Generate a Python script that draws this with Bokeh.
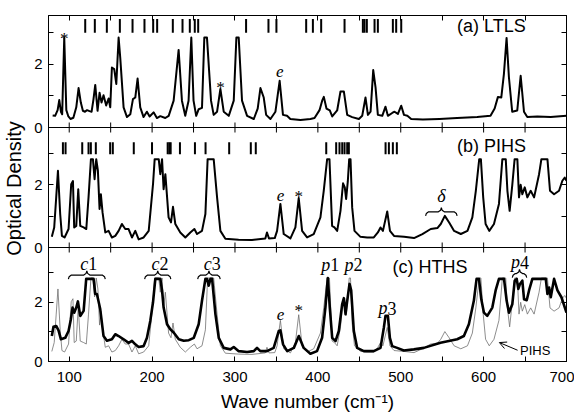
from bokeh.plotting import figure
from bokeh.models import (Range1d, FixedTicker, LinearAxis, Arrow, OpenHead, ColumnDataSource,
                          CustomJSTickFormatter, Span)
from bokeh.core.properties import value
from bokeh.embed import file_html
from bokeh.resources import INLINE

# ---------------- data ----------------
ltls_wn = [80,83,86,88,90,91.5,94,96.5,99,101.5,
           105,108.5,111.3,114,116.5,119,121.5,124.5,127,129.3,
           131.4,134.2,136.6,139,141.4,144.6,147.5,149.5,151.5,154.3,
           156.8,159.6,161.6,165.6,169.7,173.7,176.9,179.7,182.5,185.7,
           189.7,193.7,197,201.8,205.8,209.9,215.9,220,226,232,
           236,240,244,247.3,250,253.2,256.2,260.2,263,266.2,
           271.1,274.3,278.4,282.4,286.4,292.5,298.5,301.7,304.5,308.5,
           314.6,322.7,327.4,330.7,334.7,337.6,342.8,348.8,353.9,357.9,
           362.8,366.8,379,391,396,402,405.2,407.2,410.4,414.4,
           417.3,423.3,427.3,431.4,435.4,441.4,449.5,453.5,457.5,460.4,
           463.6,466.8,469.6,472.4,477.7,481.6,484.5,489.7,492.5,496.6,
           500.6,503.9,508,512.6,526.7,546.8,568,592.2,608.3,613.3,
           617.3,621.3,624.5,627.7,630.5,634.5,640.6,644.7,648.7,652.7,
           664.8,680.9,700]
ltls_od = [0.38,0.37,0.55,0.87,0.5,0.42,2.85,0.55,0.35,0.27,
           0.31,0.64,1.25,0.79,0.53,0.5,0.55,0.52,0.5,0.9,
           1.35,0.53,1.1,0.79,1.02,0.7,0.92,0.64,1.9,1.85,
           1.38,2.85,2.2,0.64,0.33,0.42,0.9,0.95,1.55,0.64,
           0.33,0.5,0.35,0.48,0.3,0.36,0.3,0.37,0.85,2.46,
           0.85,0.37,0.85,2.85,0.85,0.37,0.58,0.62,2.85,2.85,
           0.85,0.4,0.5,1.22,0.5,0.37,0.85,2.85,2.85,0.85,
           0.37,0.27,0.6,1.25,0.95,0.4,0.27,0.5,1.48,0.4,
           0.37,0.27,0.24,0.27,0.3,0.55,0.85,0.97,0.6,0.54,
           0.35,0.54,1.14,1.14,0.4,0.33,0.27,0.37,0.95,0.4,
           0.5,1.82,1.27,0.4,0.37,0.66,0.37,0.46,0.5,0.43,
           0.69,0.4,0.37,0.27,0.25,0.27,0.3,0.33,0.37,0.6,
           0.97,0.95,1.7,2.84,1.6,0.5,0.54,1.64,0.5,0.33,
           0.35,0.33,0.37]

pihs_wn = [79,81.9,84.3,86.4,89.1,91.2,94.4,99.2,102.4,104.5,
           106,108.5,110.9,113.3,117.4,120.6,123.3,126.2,128.6,130.6,
           132.6,134.6,136.6,138.2,140.2,143.5,147.5,151.5,155.6,159.6,
           163.6,167.6,171.6,175.7,179.7,183.8,189.8,195.9,201.1,203.1,
           208,209.9,212,213.9,216,219.9,222.8,225.2,228,234,
           240.1,246.1,251,254.2,260.2,264.3,267,274.3,278.4,282.4,
           288.4,304.4,320.5,336.6,338.6,341,348,350.8,354.8,358.8,
           366.9,372.9,376.9,381,387,395,403.1,407.1,411.2,414,
           417.2,420,423.3,427.3,430.4,432.5,434.1,436.1,437.8,439.4,
           441.4,444.2,451.4,459.5,467.5,472.4,475.6,478.5,483.7,487,
           491.9,504,516,526.1,536.2,544.2,548.3,553.2,558.4,564.4,
           572.5,580.5,586.4,590.6,594.7,596.7,599.5,602.4,606.8,612.5,
           618.5,622.6,626.7,628.7,631.4,634.6,637.4,640.7,642.7,644.7,
           646.7,649.6,652.8,656.8,660.9,666.9,669.7,677,680.1,685,
           691,695,697.9,700]
pihs_od = [0.34,0.64,1.6,2.45,1.07,0.37,0.32,0.59,2.02,2.12,
           0.64,0.69,1.86,0.69,0.64,0.59,1.6,2.82,2.82,2.18,
           2.82,2.45,1.23,1.7,1.12,0.48,0.53,0.32,0.37,0.53,
           0.75,0.59,0.59,0.32,0.53,0.26,0.32,0.53,2.02,2.82,
           2.82,2.34,2.82,1.86,2.34,0.96,0.8,1.3,0.75,0.48,
           0.32,0.48,0.59,0.43,0.53,1.07,2.82,2.82,1.6,0.53,
           0.28,0.25,0.24,0.29,0.48,0.29,0.3,0.53,1.39,0.43,
           0.29,0.64,1.58,0.53,0.32,0.43,0.96,1.81,2.82,2.82,
           0.69,0.64,0.53,1.17,2.05,1.92,1.55,2.1,2.82,2.82,
           1.28,0.53,0.34,0.32,0.32,0.48,0.64,0.53,1.15,0.53,
           0.37,0.34,0.3,0.43,0.59,0.62,0.75,1.01,0.8,0.53,
           0.43,0.53,0.96,1.81,2.82,2.82,1.6,0.75,0.53,0.75,
           1.39,2.82,2.82,1.81,1.17,2.0,2.82,2.82,1.6,2.0,
           1.7,1.92,1.6,1.81,1.6,2.34,2.82,2.82,1.81,1.7,
           1.81,2.13,2.23,2.13]

hths_wn = [79,81,84.3,87.1,90,95.2,99.2,102,104,106,
           108.5,110.5,113.3,117.4,120.5,129.4,131.4,133.4,137.4,141.4,
           145.5,151.5,155.6,159.6,165.6,171.7,175.7,179.7,183.8,189.8,
           193.8,197.8,201.1,203.9,209.9,212,213.9,218,222,226,
           232.2,238.2,244.3,250.3,256.2,260.2,264.3,266.3,268.3,270.4,
           272.4,276.4,280.4,286.4,294.5,298.5,304.5,314.6,322.7,326.6,
           330.6,338.6,346.7,352.8,354.8,358,363,371,377,382.9,
           391,399,405.1,409.1,412,414.4,417.3,421.3,425.3,429.3,
           431.4,433.4,435.4,438.2,440.2,443.4,447.4,455.5,467.5,475.6,
           479.6,481.6,484.5,486.9,489.7,495.7,503.7,515.8,527.9,548,
           568.1,576.2,582.2,588.2,591.5,594.4,597.2,600.4,604.4,610.5,
           614.5,618.5,624.6,627.8,630.6,634.6,637.5,639.9,641.9,643.9,
           646.7,648.8,652,654.8,658.8,675,677,679,681,685,
           689.1,693.9,700]
hths_od = [0.86,1.17,1.2,1.05,0.75,0.8,1.03,1.43,1.82,1.65,
           1.82,2.03,1.54,1.71,2.79,2.79,2.28,2.28,1.77,0.86,
           0.7,0.75,0.92,0.86,0.75,0.63,0.7,0.58,0.49,0.52,
           0.8,1.37,2.0,2.79,2.79,2.4,1.82,1.26,1.09,0.98,
           0.75,0.7,0.72,0.8,1.26,2.05,2.79,2.79,2.56,2.79,
           2.79,1.6,0.8,0.46,0.41,0.49,0.35,0.32,0.35,0.46,
           0.35,0.35,0.46,1.03,1.05,0.58,0.35,0.46,0.86,0.46,
           0.26,0.35,0.8,1.82,2.82,1.82,0.8,0.69,1.03,1.93,
           2.14,1.6,2.05,2.62,2.4,1.03,0.46,0.35,0.35,0.46,
           1.14,1.54,1.54,0.8,0.52,0.46,0.37,0.41,0.46,0.63,
           0.75,0.86,1.26,2.05,2.79,2.79,2.1,1.65,1.54,1.82,
           2.4,2.79,2.79,2.05,1.65,1.93,2.73,2.79,2.45,2.62,
           2.73,2.1,2.07,2.4,2.79,2.79,2.28,2.5,2.17,2.79,
           2.4,2.17,1.65]

# calculated mode positions (vertical bars)
ltls_modes = [119.3,130.9,145.4,161.1,176.4,190.8,201.3,206.1,225,236.7,245.5,251.5,255.6,
              313.4,340.4,350,385.9,394,404,432.2,454.3,456.3,459.1,468.4,472.4,490.5,494.5,500.6]
pihs_modes = [92.4,95.6,115.7,123.3,126.1,132.1,149.4,152.6,177.9,199.9,218.8,220.8,222.4,233.6,
              251.7,264.5,293,319.1,325.1,410.1,422.1,426.1,429.4,432.2,435.4,437.4,
              481.7,485.7,490.5,495.3]

# band labels of panel (c): italic letter + upright index
band_wn = [123, 209, 272, 415, 443, 484, 644]
band_letter = ["c", "c", "c", "p", "p", "p", "p"]
band_index = ["1", "2", "3", "1", "2", "3", "4"]

x_major = [100, 200, 300, 400, 500, 600, 700]
x_minor = [150, 250, 350, 450, 550, 650]
od_major = [0, 2]
od_minor = [1, 3]

SANS = "Liberation Sans"
SERIF = "Liberation Serif"

# panel layout: (bottom of panel in frame px, panel height px, OD at panel top)
FRAME_H = 346
PANELS = {"c": (0, 114, 3.85), "b": (114, 120, 3.83), "a": (234, 112, 3.55)}

p = figure(frame_width=518, frame_height=FRAME_H, x_range=Range1d(75, 700),
           y_range=Range1d(0, FRAME_H), x_axis_type=None, y_axis_type=None,
           output_backend="svg", toolbar_location=None,
           min_border_left=48, min_border_right=8, min_border_top=15, min_border_bottom=0)
p.outline_line_color = "black"
p.background_fill_color = "white"
p.border_fill_color = "white"

y_major_px, y_minor_px = [], []
for name, (b0, h, top) in PANELS.items():
    k = h / top
    p.extra_y_ranges[name] = Range1d(-b0 / k, (FRAME_H - b0) / k)
    y_major_px += [b0 + v * k for v in od_major]
    y_minor_px += [b0 + v * k for v in od_minor]
y_major_px.sort()

xt = FixedTicker(ticks=x_major, minor_ticks=x_minor)
yt = FixedTicker(ticks=y_major_px, minor_ticks=y_minor_px)


def style_axis(ax, labels):
    ax.axis_line_color = "black"
    ax.major_tick_line_color = "black"
    ax.minor_tick_line_color = "black"
    ax.major_tick_in = 5
    ax.major_tick_out = 0
    ax.minor_tick_in = 5
    ax.minor_tick_out = 0
    ax.major_label_text_font = SANS
    ax.major_label_text_color = "black"
    ax.major_label_text_font_size = "15px"
    ax.axis_label_text_color = "black"
    if not labels:
        ax.major_label_text_font_size = "0px"
        ax.major_label_standoff = 0
        ax.formatter = CustomJSTickFormatter(code="return '';")


bottom = LinearAxis(ticker=xt)
style_axis(bottom, True)
bottom.major_label_standoff = 10
bottom.axis_label = "Wave number (cm\u207b\u00b9)"
bottom.axis_label_text_font = SANS
bottom.axis_label_text_font_size = "19px"
bottom.axis_label_text_font_style = "normal"
bottom.axis_label_standoff = 6
p.add_layout(bottom, "below")

top_ax = LinearAxis(ticker=xt)
style_axis(top_ax, False)
p.add_layout(top_ax, "above")

left = LinearAxis(ticker=yt)
style_axis(left, True)
left.formatter = CustomJSTickFormatter(code="return (index % 2 == 0) ? '0' : '2';")
left.major_label_standoff = 6
left.axis_label = "Optical Density"
left.axis_label_text_font = SANS
left.axis_label_text_font_size = "20px"
left.axis_label_text_font_style = "normal"
left.axis_label_standoff = 6
p.add_layout(left, "left")

right = LinearAxis(ticker=yt)
style_axis(right, False)
p.add_layout(right, "right")

# inner panel borders with inward ticks on both sides
xticks_all = x_major + x_minor
for name in ("b", "a"):
    b0 = PANELS[name][0]
    p.add_layout(Span(location=b0, dimension="width", line_color="black", line_width=1))
    p.segment(x0=xticks_all, y0=b0 - 5, x1=xticks_all, y1=b0 + 5, line_color="black", line_width=1)


def add_text(name, xs, ys, texts, font, size, style="normal", align="center", baseline="middle"):
    src = ColumnDataSource(dict(x=xs, y=ys, t=texts))
    p.text(x="x", y="y", text="t", source=src, text_font=value(font),
           text_font_size=value(f"{size}px"), text_font_style=style,
           text_align=align, text_baseline=baseline, text_color="black", y_range_name=name)


def add_braces(name, specs, h, r=3.6):
    xs_all, ys_all = [], []
    for x1, x2, y in specs:
        xm = (x1 + x2) / 2
        xs_all.append([x1, x1 + 0.25 * r, x1 + r, xm - r, xm - 0.25 * r, xm,
                       xm + 0.25 * r, xm + r, x2 - r, x2 - 0.25 * r, x2])
        ys_all.append([y - h, y - 0.4 * h, y, y, y + 0.4 * h, y + h,
                       y + 0.4 * h, y, y, y - 0.4 * h, y - h])
    p.multi_line(xs_all, ys_all, line_color="black", line_width=1.2, y_range_name=name)


# ---------------- panel (a) ----------------
p.segment(x0=ltls_modes, y0=3.0, x1=ltls_modes, y1=3.44, line_color="black", line_width=2,
          y_range_name="a")
p.line(ltls_wn, ltls_od, line_color="black", line_width=2, line_join="round", y_range_name="a")
add_text("a", [94, 282.4], [2.82, 1.28], ["*", "*"], SERIF, 17, baseline="alphabetic")
add_text("a", [354], [1.78], ["e"], SERIF, 17, style="italic")
add_text("a", [568], [3.23], ["(a) LTLS"], SANS, 18, align="left")

# ---------------- panel (b) ----------------
p.segment(x0=pihs_modes, y0=2.98, x1=pihs_modes, y1=3.36, line_color="black", line_width=2,
          y_range_name="b")
p.line(pihs_wn, pihs_od, line_color="black", line_width=2, line_join="round", y_range_name="b")
add_text("b", [355], [1.65], ["e"], SERIF, 17, style="italic")
add_text("b", [377], [1.62], ["*"], SERIF, 17, baseline="alphabetic")
add_text("b", [549], [1.65], ["\u03b4"], SERIF, 18, style="italic")
add_braces("b", [(530, 568, 1.14)], 0.13)
add_text("b", [568], [3.25], ["(b) PIHS"], SANS, 18, align="left")

# ---------------- panel (c) ----------------
p.line(pihs_wn, pihs_od, line_color="#707070", line_width=0.8, line_join="round", y_range_name="c")
p.line(hths_wn, hths_od, line_color="black", line_width=2.6, line_join="round", y_range_name="c")
band_y = [3.3, 3.3, 3.3, 3.26, 3.26, 1.8, 3.36]
add_text("c", band_wn, band_y, band_letter, SERIF, 18, style="italic", align="right")
add_text("c", band_wn, band_y, band_index, SERIF, 18, align="left")
add_braces("c", [(99, 143.5, 2.92), (191, 222.6, 2.92), (255, 282.2, 2.92), (634.6, 652, 2.97)], 0.14)
add_text("c", [355], [1.6], ["e"], SERIF, 17, style="italic")
add_text("c", [377], [1.72], ["*"], SERIF, 17, baseline="alphabetic")
add_text("c", [490], [3.18], ["(c) HTHS"], SANS, 18, align="left")
add_text("c", [644], [0.36], ["PIHS"], SANS, 13, align="left")
p.add_layout(Arrow(end=OpenHead(size=7, line_width=1, line_color="black"),
                   x_start=641, y_start=0.38, x_end=619, y_end=0.64,
                   line_width=1, line_color="black", y_range_name="c"))

open("out.html", "w").write(file_html(p, INLINE))
